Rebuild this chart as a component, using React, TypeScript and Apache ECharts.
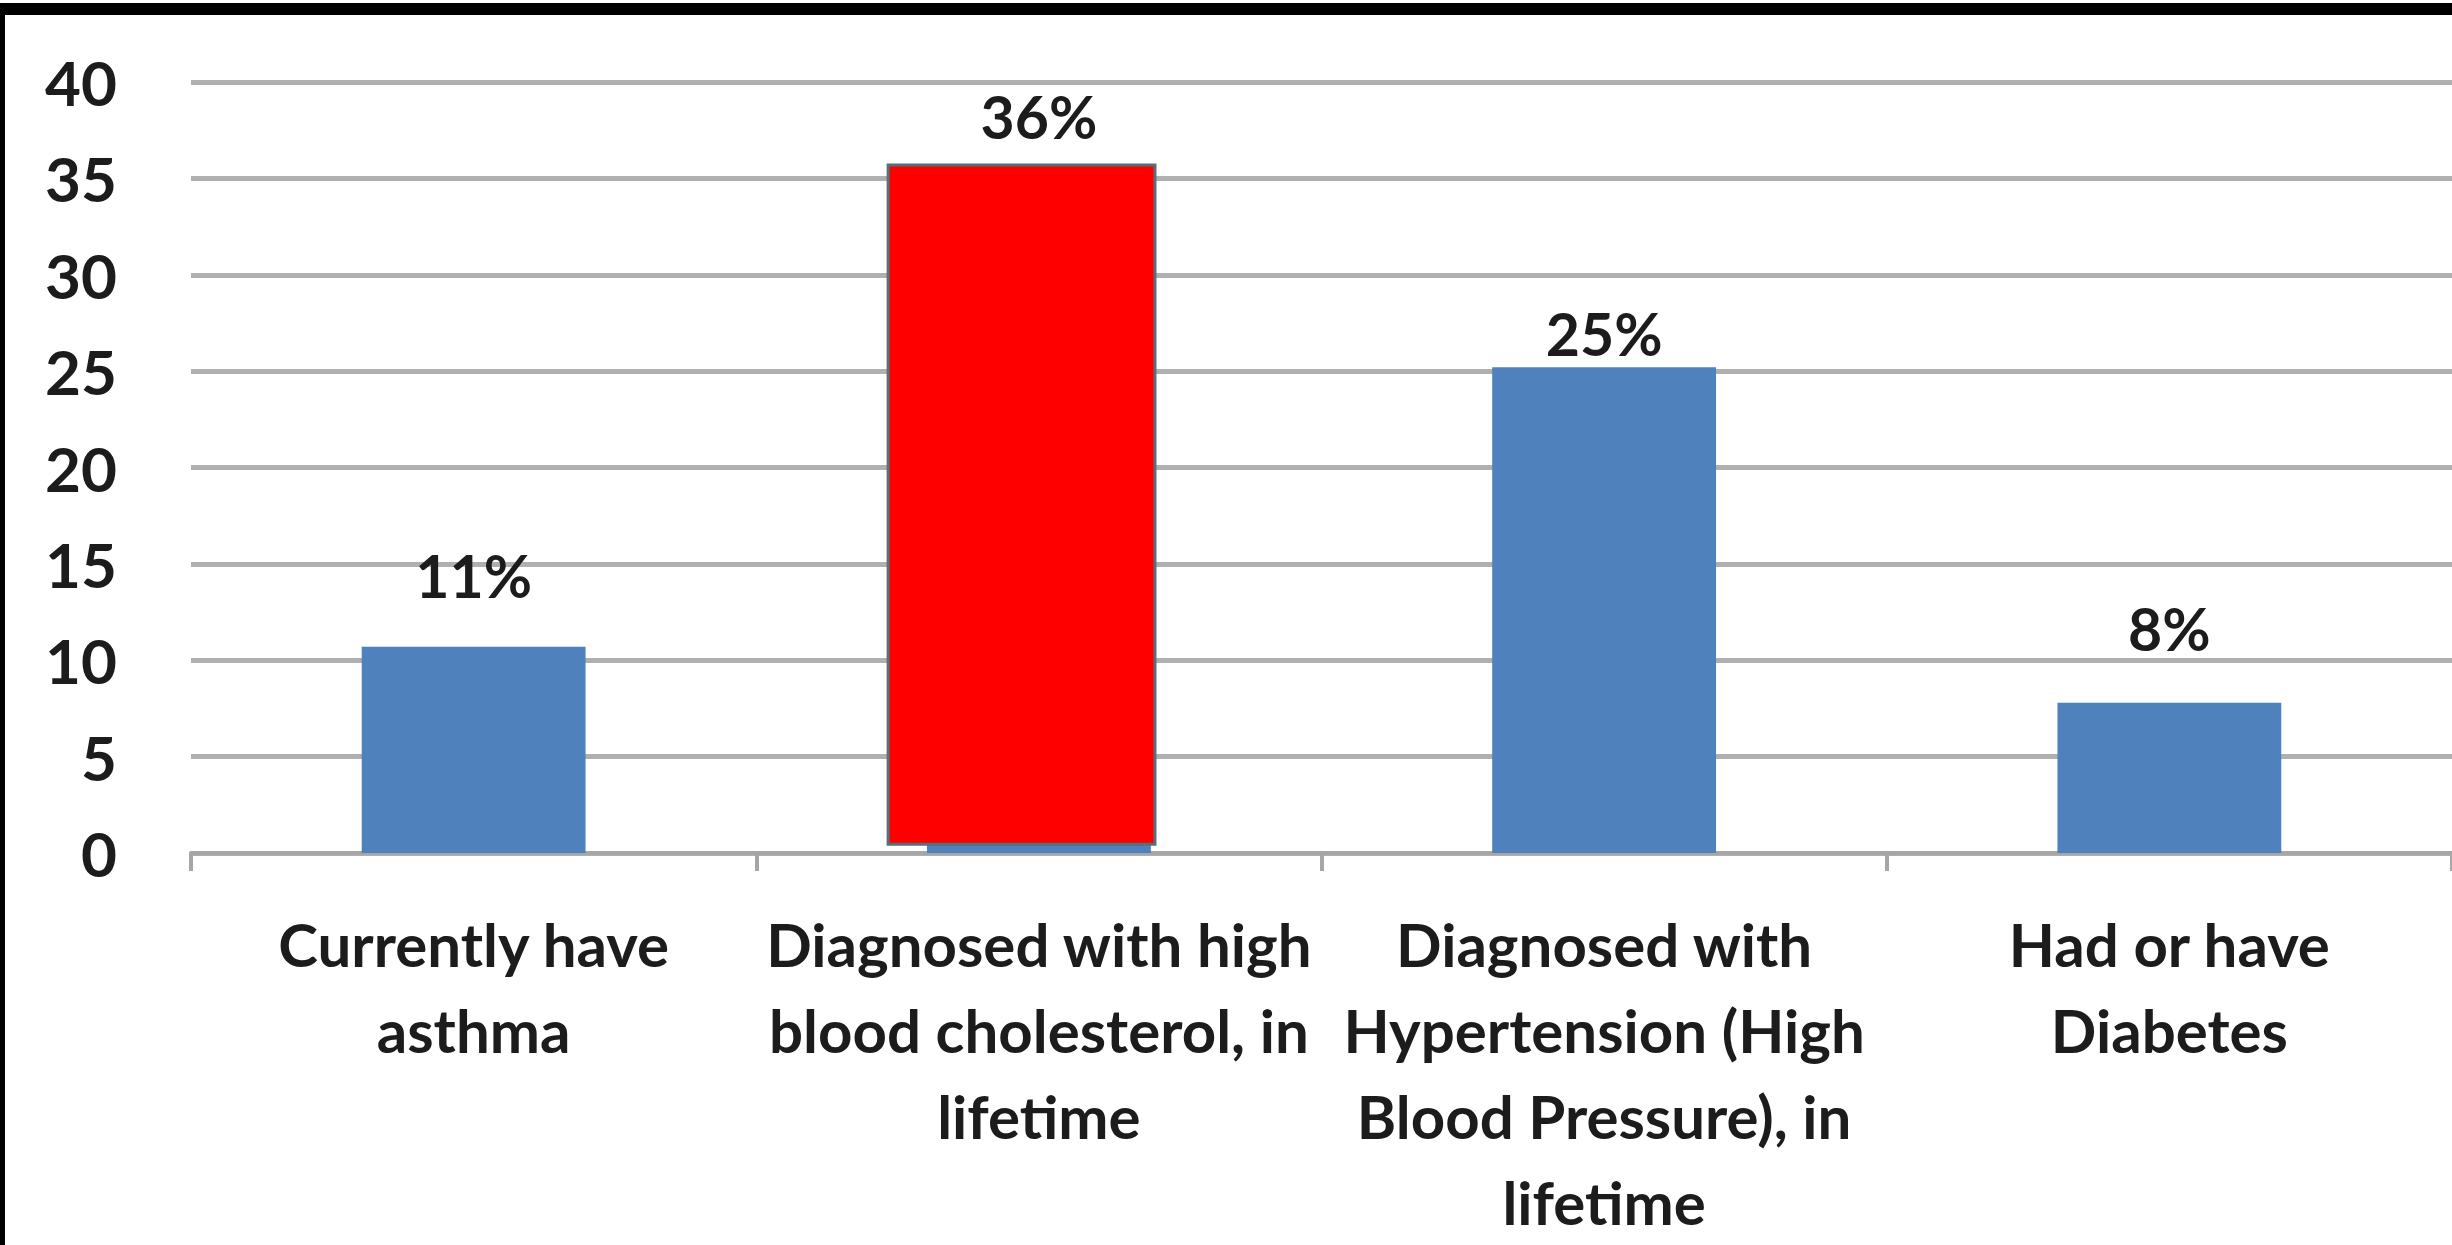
import React, { useEffect, useRef } from 'react';
import * as echarts from 'echarts';

const categories = [
  'Currently have\nasthma',
  'Diagnosed with high\nblood cholesterol, in\nlifetime',
  'Diagnosed with\nHypertension (High\nBlood Pressure), in\nlifetime',
  'Had or have\nDiabetes',
];
const barValues = [10.7, 35.7, 25.2, 7.8];
const barLabels = ['11%', '36%', '25%', '8%'];
// highlighted overlay: [category index, bottom value, top value]
const highlight = [[1, 0.45, 35.7]];
const yMin = 0;
const yMax = 40;
const yInterval = 5;

const FONT = 'Lato';
const TEXT = '#1c1c1c';
const labelDistances = [42, 19, 4, 45];

export default function App() {
  const ref = useRef<HTMLDivElement>(null);
  useEffect(() => {
    const chart = echarts.init(ref.current!, null, { renderer: 'svg' });
    chart.setOption({
      animation: false,
      backgroundColor: '#ffffff',
      grid: { left: 191, top: 82, height: 776, width: 2270 },
      xAxis: {
        type: 'category',
        data: categories,
        axisLine: { show: true, lineStyle: { color: '#a6a6a6', width: 4 } },
        axisTick: { show: true, length: 18, lineStyle: { color: '#a6a6a6', width: 4 } },
        axisLabel: {
          interval: 0,
          fontFamily: FONT,
          fontWeight: 'bold',
          fontSize: 60,
          lineHeight: 86,
          color: TEXT,
          margin: 48,
        },
        splitLine: { show: false },
      },
      yAxis: {
        type: 'value',
        min: yMin,
        max: yMax,
        interval: yInterval,
        axisLine: { show: false },
        axisTick: { show: false },
        axisLabel: { fontFamily: FONT, fontWeight: 'bold', fontSize: 62, color: TEXT, margin: 74 },
        splitLine: { show: true, lineStyle: { color: '#b0b0b0', width: 5 } },
      },
      series: [
        {
          type: 'bar',
          barWidth: '39.6%',
          data: barValues.map((v, i) => ({
            value: v,
            label: {
              show: true,
              position: 'top',
              distance: labelDistances[i],
              formatter: barLabels[i],
              fontFamily: FONT,
              fontWeight: 'bold',
              fontSize: 59,
              lineHeight: 59,
              color: TEXT,
            },
          })),
          itemStyle: { color: '#4f81bd' },
        },
        {
          type: 'custom',
          z: 5,
          encode: { x: 0, y: [1, 2] },
          data: highlight,
          renderItem: (params: any, api: any) => {
            const idx = api.value(0);
            const lo = api.coord([idx, api.value(1)]);
            const hi = api.coord([idx, api.value(2)]);
            const band = api.size([1, 0])[0];
            const x0 = lo[0] - band * 0.2667;
            const x1 = lo[0] + band * 0.2054;
            return {
              type: 'rect',
              shape: { x: x0, y: hi[1], width: x1 - x0, height: lo[1] - hi[1] },
              style: { fill: '#ff0000', stroke: '#56707b', lineWidth: 3 },
            };
          },
        },
      ],
      graphic: [
        { type: 'rect', shape: { x: 0, y: 3, width: 2452, height: 12 }, style: { fill: '#000' }, z: 100 },
        { type: 'rect', shape: { x: 0, y: 3, width: 5, height: 1242 }, style: { fill: '#000' }, z: 100 },
      ],
    });
    return () => chart.dispose();
  }, []);
  return (
    <div
      ref={ref}
      style={{ position: 'absolute', left: 0, top: 0, width: 2452, height: 1245, background: '#fff' }}
    />
  );
}
